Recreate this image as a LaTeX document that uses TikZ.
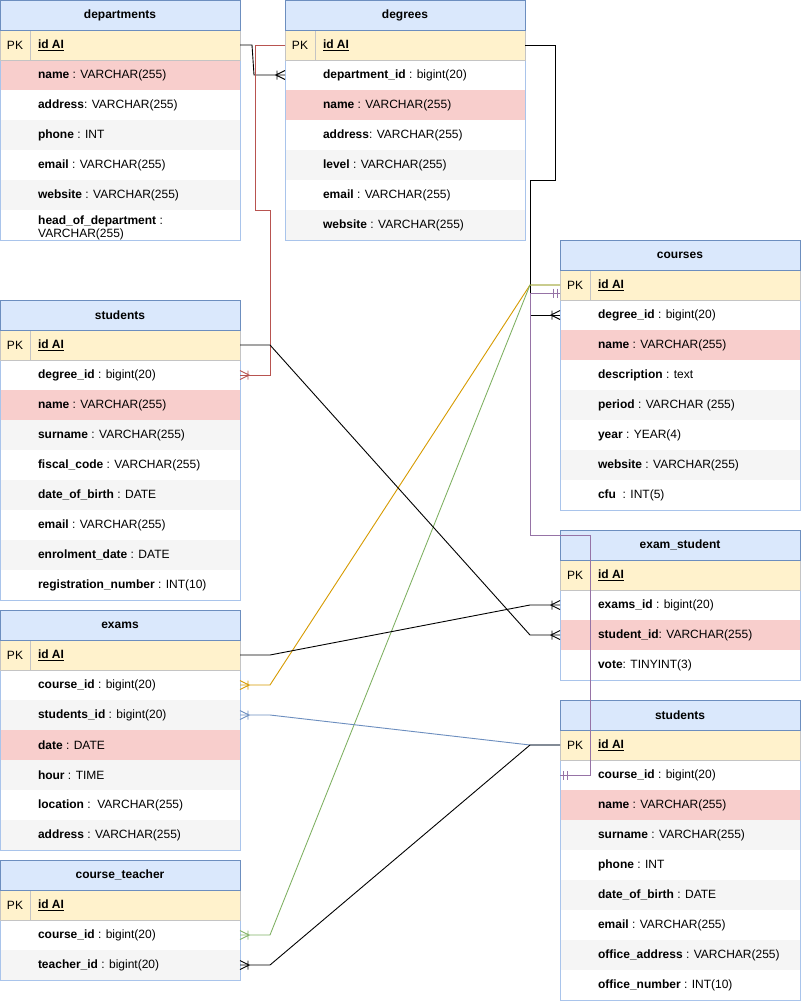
\documentclass[tikz,border=0pt]{standalone}
\usepackage{fontspec}
\setmainfont{Liberation Sans}

% ER connector ends: "one or many" crow's foot and "mandatory one" double bar
\pgfdeclarearrow{
  name = crowfoot,
  setup code = {
    \pgfarrowssettipend{0pt}
    \pgfarrowssetlineend{0pt}
    \pgfarrowssetbackend{-10pt}
    \pgfarrowshullpoint{0pt}{4.5pt}
    \pgfarrowshullpoint{0pt}{-4.5pt}
    \pgfarrowshullpoint{-10pt}{0pt}
  },
  drawing code = {
    \pgfsetdash{}{0pt}
    \pgfpathmoveto{\pgfqpoint{0pt}{4.5pt}}
    \pgfpathlineto{\pgfqpoint{-9pt}{0pt}}
    \pgfpathlineto{\pgfqpoint{0pt}{-4.5pt}}
    \pgfpathmoveto{\pgfqpoint{-8pt}{4.5pt}}
    \pgfpathlineto{\pgfqpoint{-8pt}{-4.5pt}}
    \pgfusepathqstroke
  },
  defaults = {}
}
\pgfdeclarearrow{
  name = mandone,
  setup code = {
    \pgfarrowssettipend{0pt}
    \pgfarrowssetlineend{0pt}
    \pgfarrowssetbackend{-8pt}
    \pgfarrowshullpoint{0pt}{4.5pt}
    \pgfarrowshullpoint{0pt}{-4.5pt}
    \pgfarrowshullpoint{-8pt}{4.5pt}
    \pgfarrowshullpoint{-8pt}{-4.5pt}
  },
  drawing code = {
    \pgfsetdash{}{0pt}
    \pgfpathmoveto{\pgfqpoint{-3pt}{4.5pt}}
    \pgfpathlineto{\pgfqpoint{-3pt}{-4.5pt}}
    \pgfpathmoveto{\pgfqpoint{-7pt}{4.5pt}}
    \pgfpathlineto{\pgfqpoint{-7pt}{-4.5pt}}
    \pgfusepathqstroke
  },
  defaults = {}
}

\definecolor{hdfill}{HTML}{DAE8FC}
\definecolor{hdline}{HTML}{6C8EBF}
\definecolor{pkfill}{HTML}{FFF2CC}
\definecolor{pkline}{HTML}{C4C4C4}
\definecolor{pinkrow}{HTML}{F8CECC}
\definecolor{grayrow}{HTML}{F5F5F5}
\definecolor{tline}{HTML}{A9C4EB}
\definecolor{cred}{HTML}{B85450}
\definecolor{corange}{HTML}{D79B00}
\definecolor{cgreen}{HTML}{82B366}
\definecolor{cblue}{HTML}{6C8EBF}
\definecolor{cpurple}{HTML}{9673A6}

\tikzset{
  erhead/.style={anchor=north west, minimum width=240pt, minimum height=30pt,
    inner sep=0pt, outer sep=0pt, fill=hdfill, font=\fontsize{12}{14}\selectfont\bfseries},
  errow/.style={anchor=north west, minimum width=240pt, minimum height=30pt,
    inner sep=0pt, outer sep=0pt},
  pklabel/.style={inner sep=0pt},
  conn/.style={line width=0.9pt},
}

% table title bar
\newcommand\ertitle[4]{\node[erhead] (#1) at (#2,#3) {#4};}
% primary key row
\newcommand\erpk[3]{%
  \node[errow, fill=pkfill] (#1-pk) at (#2,#3) {\makebox[164pt][l]{\textbf{\underline{id AI}}}};
  \node[pklabel] (#1-pkl) at ([xshift=15pt]#1-pk.west) {PK};}
% ordinary field row: id, x, y, fill, field, type
\newcommand\errow[6]{%
  \node[errow, fill=#4] (#1) at (#2,#3) {\makebox[164pt][l]{\textbf{#5}#6}};}
% outlines of a table: id, last row
\newcommand\erframe[2]{%
  \draw[tline, line width=1pt] (#1-pk.south west) rectangle (#2.south east);
  \draw[pkline, line width=1pt] (#1-pk.north west) rectangle (#1-pk.south east);
  \draw[pkline, line width=1pt] ([xshift=30pt]#1-pk.north west) -- ([xshift=30pt]#1-pk.south west);
  \draw[hdline, line width=1pt] (#1.north west) rectangle (#1.south east);}

\begin{document}
\begin{tikzpicture}[x=1pt, y=-1pt, font=\fontsize{12}{14}\selectfont]
\useasboundingbox[fill=white] (0,0) rectangle (801,1001);

% departments
\ertitle{dep}{0}{0}{departments}
\erpk{dep}{0}{30}
\errow{dep-1}{0}{60}{pinkrow}{name}{ : VARCHAR(255)}
\errow{dep-2}{0}{90}{white}{address}{: VARCHAR(255)}
\errow{dep-3}{0}{120}{grayrow}{phone}{ : INT}
\errow{dep-4}{0}{150}{white}{email}{ : VARCHAR(255)}
\errow{dep-5}{0}{180}{grayrow}{website}{ : VARCHAR(255)}
\node[errow, fill=white] (dep-6) at (0,210) {};
\node[anchor=west, inner sep=0pt, align=left, font=\fontsize{12}{13}\selectfont]
  (dep-6-t) at ([xshift=38pt, yshift=-3pt]dep-6.west)
  {\textbf{head\_of\_department} :\\VARCHAR(255)};
\erframe{dep}{dep-6}

% degrees
\ertitle{deg}{285}{0}{degrees}
\erpk{deg}{285}{30}
\errow{deg-1}{285}{60}{white}{department\_id}{ : bigint(20)}
\errow{deg-2}{285}{90}{pinkrow}{name}{ : VARCHAR(255)}
\errow{deg-3}{285}{120}{white}{address}{: VARCHAR(255)}
\errow{deg-4}{285}{150}{grayrow}{level}{ : VARCHAR(255)}
\errow{deg-5}{285}{180}{white}{email}{ : VARCHAR(255)}
\errow{deg-6}{285}{210}{grayrow}{website}{ : VARCHAR(255)}
\erframe{deg}{deg-6}

% courses
\ertitle{crs}{560}{240}{courses}
\erpk{crs}{560}{270}
\errow{crs-1}{560}{300}{white}{degree\_id}{ : bigint(20)}
\errow{crs-2}{560}{330}{pinkrow}{name}{ : VARCHAR(255)}
\errow{crs-3}{560}{360}{white}{description}{ : text}
\errow{crs-4}{560}{390}{grayrow}{period}{ : VARCHAR (255)}
\errow{crs-5}{560}{420}{white}{year}{ : YEAR(4)}
\errow{crs-6}{560}{450}{grayrow}{website}{ : VARCHAR(255)}
\errow{crs-7}{560}{480}{white}{cfu}{\ \ : INT(5)}
\erframe{crs}{crs-7}

% students
\ertitle{stu}{0}{300}{students}
\erpk{stu}{0}{330}
\errow{stu-1}{0}{360}{white}{degree\_id}{ : bigint(20)}
\errow{stu-2}{0}{390}{pinkrow}{name}{ : VARCHAR(255)}
\errow{stu-3}{0}{420}{grayrow}{surname}{ : VARCHAR(255)}
\errow{stu-4}{0}{450}{white}{fiscal\_code}{ : VARCHAR(255)}
\errow{stu-5}{0}{480}{grayrow}{date\_of\_birth}{ : DATE}
\errow{stu-6}{0}{510}{white}{email}{ : VARCHAR(255)}
\errow{stu-7}{0}{540}{grayrow}{enrolment\_date}{ : DATE}
\errow{stu-8}{0}{570}{white}{registration\_number}{ : INT(10)}
\erframe{stu}{stu-8}

% exam_student
\ertitle{es}{560}{530}{exam\_student}
\erpk{es}{560}{560}
\errow{es-1}{560}{590}{white}{exams\_id}{ : bigint(20)}
\errow{es-2}{560}{620}{pinkrow}{student\_id}{: VARCHAR(255)}
\errow{es-3}{560}{650}{white}{vote}{: TINYINT(3)}
\erframe{es}{es-3}

% exams
\ertitle{exm}{0}{610}{exams}
\erpk{exm}{0}{640}
\errow{exm-1}{0}{670}{white}{course\_id}{ : bigint(20)}
\errow{exm-2}{0}{700}{grayrow}{students\_id}{ : bigint(20)}
\errow{exm-3}{0}{730}{pinkrow}{date}{ : DATE}
\errow{exm-4}{0}{760}{grayrow}{hour}{ : TIME}
\errow{exm-5}{0}{790}{white}{location}{ :\ \ VARCHAR(255)}
\errow{exm-6}{0}{820}{grayrow}{address}{ : VARCHAR(255)}
\erframe{exm}{exm-6}

% teachers table (titled students)
\ertitle{tch}{560}{700}{students}
\erpk{tch}{560}{730}
\errow{tch-1}{560}{760}{white}{course\_id}{ : bigint(20)}
\errow{tch-2}{560}{790}{pinkrow}{name}{ : VARCHAR(255)}
\errow{tch-3}{560}{820}{grayrow}{surname}{ : VARCHAR(255)}
\errow{tch-4}{560}{850}{white}{phone}{ : INT}
\errow{tch-5}{560}{880}{grayrow}{date\_of\_birth}{ : DATE}
\errow{tch-6}{560}{910}{white}{email}{ : VARCHAR(255)}
\errow{tch-7}{560}{940}{grayrow}{office\_address}{ : VARCHAR(255)}
\errow{tch-8}{560}{970}{white}{office\_number}{ : INT(10)}
\erframe{tch}{tch-8}

% course_teacher
\ertitle{ct}{0}{860}{course\_teacher}
\erpk{ct}{0}{890}
\errow{ct-1}{0}{920}{white}{course\_id}{ : bigint(20)}
\errow{ct-2}{0}{950}{grayrow}{teacher\_id}{ : bigint(20)}
\erframe{ct}{ct-2}

% relations
\draw[conn, -crowfoot] (dep-pk.east) -- ++(12,0) -- ([xshift=-31pt]deg-1.west) -- (deg-1.west);
\draw[conn, cred, -crowfoot] (deg-pk.west) -- ++(-30,0) -- ++(0,165) -- ++(15,0) |- (stu-1.east);
\draw[conn, -crowfoot] (deg-pk.east) -- ++(30,0) -- ++(0,135) -- ++(-25,0) |- (crs-1.west);
\draw[conn, corange, -crowfoot] (crs-pk.west) -- ++(-30,0) -- ([xshift=30pt]exm-1.east) -- (exm-1.east);
\draw[conn, cgreen, -crowfoot] (crs-pk.west) -- ++(-30,0) -- ([xshift=30pt]ct-1.east) -- (ct-1.east);
\draw[conn, -crowfoot] (stu-pk.east) -- ++(30,0) -- ([xshift=-30pt]es-2.west) -- (es-2.west);
\draw[conn, -crowfoot] (exm-pk.east) -- ++(30,0) -- ([xshift=-30pt]es-1.west) -- (es-1.west);
\draw[conn, cblue, -crowfoot] (tch-pk.west) -- ++(-30,0) -- ([xshift=30pt]exm-2.east) -- (exm-2.east);
\draw[conn, -crowfoot] (tch-pk.west) -- ++(-30,0) -- ([xshift=30pt]ct-2.east) -- (ct-2.east);
\draw[conn, cpurple, mandone-mandone] ([yshift=-8pt]crs-pk.west) -- ++(-30,0) -- ++(0,242) -- ++(60,0) |- (tch-1.west);
\end{tikzpicture}
\end{document}
